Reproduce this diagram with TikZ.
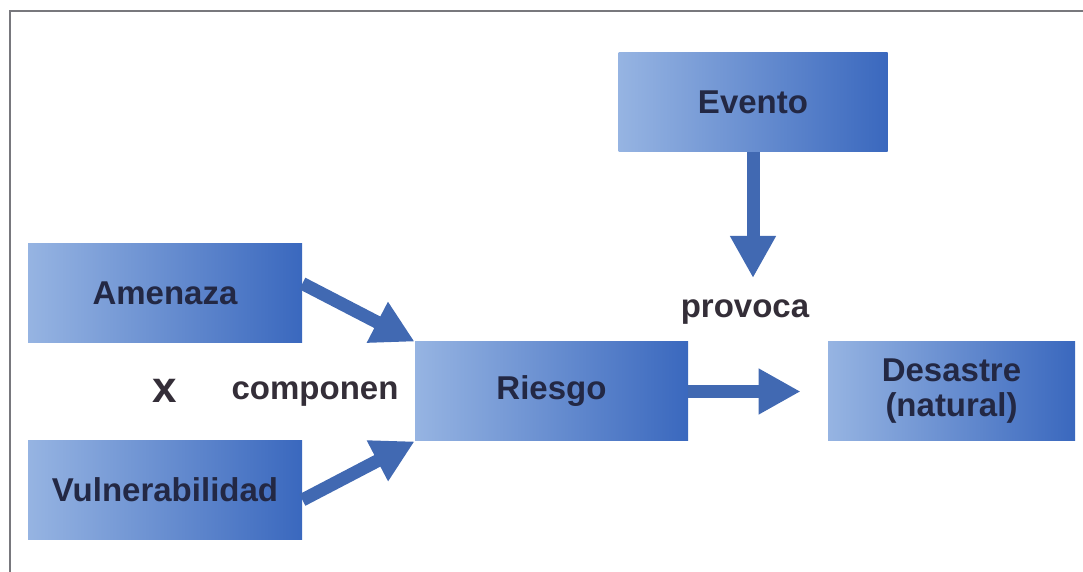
\documentclass[tikz,border=0pt]{standalone}
\usepackage{fontspec}
\setmainfont{Liberation Sans}
\usetikzlibrary{arrows.meta,calc}
\definecolor{boxL}{RGB}{150,180,226}
\definecolor{boxR}{RGB}{58,104,190}
\definecolor{arrowc}{RGB}{65,105,178}
\definecolor{labelc}{RGB}{35,40,68}
\definecolor{textc}{RGB}{52,46,56}
\definecolor{framec}{RGB}{120,120,125}
\begin{document}
\begin{tikzpicture}[x=0.5pt,y=-0.5pt,
  box/.style={left color=boxL,right color=boxR,minimum width=137pt,minimum height=49.5pt,
    inner sep=0pt,font=\bfseries\fontsize{16.5}{17.5}\selectfont,text=labelc,align=center},
  lbl/.style={font=\bfseries\fontsize{16.5}{19}\selectfont,text=textc,inner sep=0pt},
  conn/.style={draw=arrowc,line width=6.5pt,-{Triangle[width=21.5pt,length=21pt]}}]
\useasboundingbox (0,0) rectangle (1083,572);
\draw[framec,line width=1.3pt] (10,572) -- (10,11) -- (1083,11);
\node[box,minimum width=134.5pt] (evento) at (753,102) {Evento};
\node[box] (amen) at (165,293.5) {Amenaza};
\node[box] (vuln) at (165,490) {Vulnerabilidad};
\node[box,minimum width=136.5pt] (riesgo) at (551.5,391.5) {Riesgo};
\node[box,minimum width=123.5pt] (des) at (951.5,391.5) {Desastre\\(natural)};
\node[lbl] (prov) at (745,312) {provoca};
\node[lbl,font=\bfseries\fontsize{22}{24}\selectfont] (x) at (165,391) {x};
\node[lbl] (comp) at (315,394) {componen};
\coordinate (ptip) at (751,278);
\draw[conn] (evento.south) -- (evento.south |- ptip);
\draw[conn] ($(amen.east)+(0,-10)$) -- (riesgo.north west);
\draw[conn] ($(vuln.east)+(0,10)$) -- (riesgo.south west);
\draw[conn,shorten >=13.5pt] (riesgo.east) -- (des.west);
\end{tikzpicture}
\end{document}
